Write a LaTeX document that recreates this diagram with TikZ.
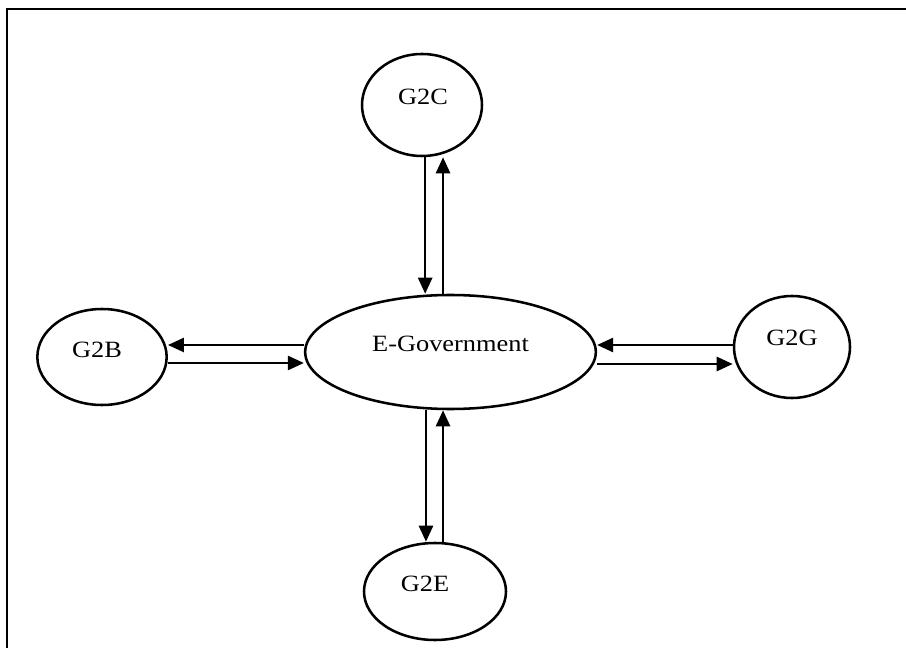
\documentclass[tikz,border=0pt]{standalone}
\usepackage{fontspec}
\setmainfont{Liberation Serif}[FakeStretch=1.13]
\usetikzlibrary{arrows.meta, shapes.geometric}
\tikzset{
    bulle/.style={draw, ellipse, line width=1.9pt, inner sep=0pt},
    fleche/.style={-{Triangle[length=12pt, width=10.5pt]}, line width=1.9pt},
    cadre/.style={line width=2.1pt},
}
\begin{document}
\begin{tikzpicture}[x=0.75pt, y=-0.75pt, font=\fontsize{17.5}{21}\selectfont]
\useasboundingbox (0,0) rectangle (906,648);
\draw[cadre] (7,650) -- (7,9) -- (908,9);
\node[bulle, minimum width=218pt, minimum height=85.5pt,
      label={[yshift=6pt]center:E-Government}] (egov) at (450.5,352) {};
\node[bulle, minimum width=90pt, minimum height=76.5pt,
      label={[xshift=0.75pt, yshift=6pt]center:G2C}] (g2c) at (422,105) {};
\node[bulle, minimum width=97pt, minimum height=72pt,
      label={[xshift=-3.75pt, yshift=5.25pt]center:G2B}] (g2b) at (102,357) {};
\node[bulle, minimum width=87pt, minimum height=76.5pt,
      label={[yshift=7pt]center:G2G}] (g2g) at (792,347) {};
\node[bulle, minimum width=106.5pt, minimum height=72.75pt,
      label={[xshift=-7.5pt, yshift=5.6pt]center:G2E}] (g2e) at (435,591.5) {};
% haut
\draw[fleche] ([xshift=-19pt]egov.north |- g2c.south) -- ([xshift=-19pt]egov.north);
\draw[fleche] ([xshift=-5.6pt]egov.north) -- ([xshift=-5.6pt]egov.north |- g2c.south);
% bas
\draw[fleche] ([xshift=-18.4pt]egov.south) -- ([xshift=-18.4pt]egov.south |- g2e.north);
\draw[fleche] ([xshift=-5.6pt]egov.south |- g2e.north) -- ([xshift=-5.6pt]egov.south);
% gauche
\draw[fleche] ([yshift=5.25pt]egov.west) -- ([yshift=5.25pt]egov.west -| g2b.east);
\draw[fleche] ([yshift=-8.25pt]egov.west -| g2b.east) -- ([yshift=-8.25pt]egov.west);
% droite
\draw[fleche] ([yshift=5.25pt]egov.east -| g2g.west) -- ([yshift=5.25pt]egov.east);
\draw[fleche] ([yshift=-9pt]egov.east) -- ([yshift=-9pt]egov.east -| g2g.west);
\end{tikzpicture}
\end{document}
